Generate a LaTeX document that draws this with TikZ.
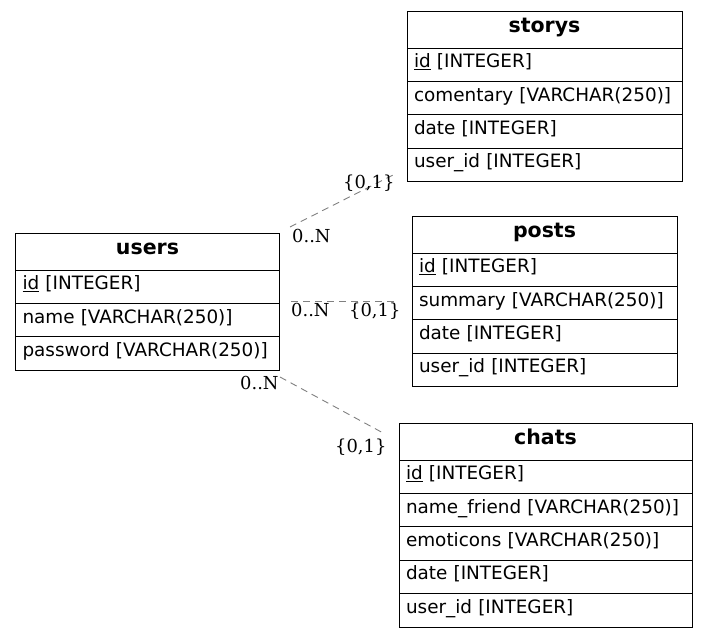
\documentclass[tikz,border=0pt]{standalone}
\usepackage{fontspec}
\usepackage{tikz}
\usetikzlibrary{positioning}
\newfontfamily\tblfont{DejaVu Sans}
\newfontfamily\relfont{DejaVu Serif}
\definecolor{relgray}{RGB}{128,128,128}
\tikzset{
	tblhead/.style={draw, line width=1pt, outer sep=0pt, inner xsep=7pt, text width=#1, align=center,
		minimum height=37pt, text height=11pt, text depth=5pt, anchor=north,
		font=\tblfont\bfseries\fontsize{20.5pt}{22pt}\selectfont},
	tblrow/.style={draw, line width=1pt, outer sep=0pt, inner xsep=7pt, text width=#1, align=left,
		minimum height=33.4pt, text height=11pt, text depth=5pt,
		font=\tblfont\fontsize{18.4pt}{20pt}\selectfont},
	rel/.style={draw=relgray, line width=0.9pt, dash pattern=on 7pt off 5pt},
	rellbl/.style={inner sep=0pt, anchor=base west, font=\relfont\fontsize{17.9pt}{20pt}\selectfont}
}
\begin{document}
\begin{tikzpicture}[x=1pt, y=-1pt]
		\useasboundingbox (0,0) rectangle (707,637);
		\node[tblhead=261pt] (st) at (544.5,11) {storys};
		\node[tblrow=261pt, below=0pt of st] (st1) {\underline{id} [INTEGER]};
		\node[tblrow=261pt, below=0pt of st1] (st2) {comentary [VARCHAR(250)]};
		\node[tblrow=261pt, below=0pt of st2] (st3) {date [INTEGER]};
		\node[tblrow=261pt, below=0pt of st3] (st4) {user\_id [INTEGER]};
		\node[tblhead=250pt] (us) at (147.5,233) {users};
		\node[tblrow=250pt, below=0pt of us] (us1) {\underline{id} [INTEGER]};
		\node[tblrow=250pt, below=0pt of us1] (us2) {name [VARCHAR(250)]};
		\node[tblrow=250pt, below=0pt of us2] (us3) {password [VARCHAR(250)]};
		\node[tblhead=251pt] (po) at (544.5,216) {posts};
		\node[tblrow=251pt, below=0pt of po] (po1) {\underline{id} [INTEGER]};
		\node[tblrow=251pt, below=0pt of po1] (po2) {summary [VARCHAR(250)]};
		\node[tblrow=251pt, below=0pt of po2] (po3) {date [INTEGER]};
		\node[tblrow=251pt, below=0pt of po3] (po4) {user\_id [INTEGER]};
		\node[tblhead=279pt] (ch) at (545.5,423) {chats};
		\node[tblrow=279pt, below=0pt of ch] (ch1) {\underline{id} [INTEGER]};
		\node[tblrow=279pt, below=0pt of ch1] (ch2) {name\_friend [VARCHAR(250)]};
		\node[tblrow=279pt, below=0pt of ch2] (ch3) {emoticons [VARCHAR(250)]};
		\node[tblrow=279pt, below=0pt of ch3] (ch4) {date [INTEGER]};
		\node[tblrow=279pt, below=0pt of ch4] (ch5) {user\_id [INTEGER]};
		\coordinate (us-st) at (290,227);
		\coordinate (st-us) at (397,173);
		\coordinate (us-po) at (291,301);
		\coordinate (po-us) at (395,301);
		\coordinate (us-ch) at (280,377);
		\coordinate (ch-us) at (385,434);
		\draw[rel] (us-st) -- (st-us);
		\draw[rel] (us-po) -- (po-us);
		\draw[rel] (us-ch) -- (ch-us);
		\node[rellbl] (lus-st) at (292,242) {0..N};
		\node[rellbl] (lst-us) at (343,188) {\{0,1\}};
		\node[rellbl] (lus-po) at (291,316) {0..N};
		\node[rellbl] (lpo-us) at (349,316) {\{0,1\}};
		\node[rellbl] (lus-ch) at (240,389) {0..N};
		\node[rellbl] (lch-us) at (335,452) {\{0,1\}};
	\end{tikzpicture}
\end{document}
